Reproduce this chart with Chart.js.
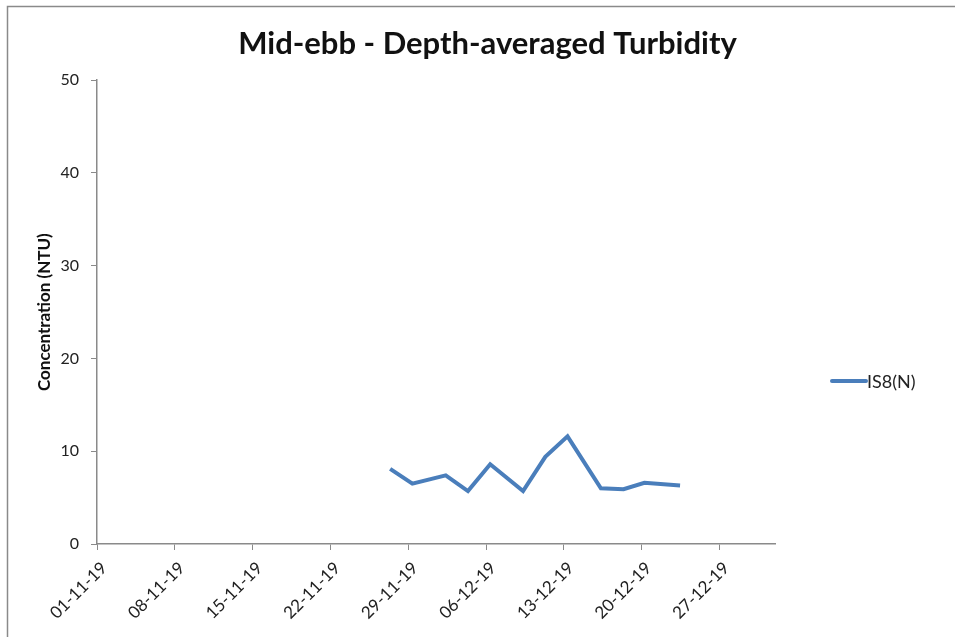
<!DOCTYPE html>
<html>
<head>
<meta charset="utf-8">
<script src="https://cdn.jsdelivr.net/npm/chart.js@4.4.1/dist/chart.umd.min.js"></script>
<style>
  html, body { margin: 0; padding: 0; background: #fff; }
  #wrap { width: 955px; height: 637px; position: relative; }
</style>
</head>
<body>
<div id="wrap"><canvas id="grafico"></canvas></div>
<script>
// dados (data e hora aproximada da medição)
const datas = ["2019-11-27T09:00", "2019-11-29T09:00", "2019-12-02T09:00", "2019-12-04T09:00",
  "2019-12-06T09:00", "2019-12-09T08:00", "2019-12-11T08:00", "2019-12-13T08:00",
  "2019-12-16T08:00", "2019-12-18T09:00", "2019-12-20T06:00", "2019-12-23T11:00"];
const valoresIS8 = [8.1, 6.5, 7.4, 5.7, 8.6, 5.7, 9.4, 11.6, 6.0, 5.9, 6.6, 6.3];
const nomeSerie = "IS8(N)";
const inicioEixo = "2019-11-01T00:00";
const diasEixo = 61;

const DIA = 86400000;
function diaDe(d) {
  return (Date.parse(d + ":00Z") - Date.parse(inicioEixo + ":00Z")) / DIA;
}
function formatarDia(n) {
  const dt = new Date(Date.parse(inicioEixo + ":00Z") + n * DIA);
  const dd = String(dt.getUTCDate()).padStart(2, "0");
  const mm = String(dt.getUTCMonth() + 1).padStart(2, "0");
  const yy = String(dt.getUTCFullYear()).slice(2);
  return dd + "-" + mm + "-" + yy;
}

const pontos = datas.map((d, i) => ({ x: diaDe(d), y: valoresIS8[i] }));
const corLinha = "#4a7ebb";
const fonte = "Lato, 'Open Sans', sans-serif";

const moldura = {
  id: "moldura",
  beforeDraw(chart) {
    const ctx = chart.ctx;
    ctx.save();
    ctx.strokeStyle = "#8a8a8a";
    ctx.lineWidth = 1.5;
    ctx.beginPath();
    ctx.moveTo(7.5, chart.height);
    ctx.lineTo(7.5, 6.5);
    ctx.lineTo(chart.width, 6.5);
    ctx.stroke();
    ctx.restore();
  }
};

const legendaDireita = {
  id: "legendaDireita",
  afterDraw(chart) {
    const ctx = chart.ctx;
    ctx.save();
    ctx.strokeStyle = corLinha;
    ctx.lineWidth = 4;
    ctx.lineCap = "round";
    ctx.beginPath();
    ctx.moveTo(832, 381);
    ctx.lineTo(866, 381);
    ctx.stroke();
    ctx.fillStyle = "#222";
    ctx.font = "18px " + fonte;
    ctx.textBaseline = "middle";
    ctx.fillText(nomeSerie, 867, 382);
    ctx.restore();
  }
};

Chart.defaults.font.family = fonte;
Chart.defaults.color = "#222";

const ctx = document.getElementById("grafico").getContext("2d");
new Chart(ctx, {
  type: "line",
  data: {
    datasets: [{
      label: nomeSerie,
      data: pontos,
      borderColor: corLinha,
      backgroundColor: corLinha,
      borderWidth: 4,
      pointRadius: 0,
      tension: 0,
      borderJoinStyle: "miter"
    }]
  },
  options: {
    responsive: true,
    maintainAspectRatio: false,
    animation: false,
    layout: { padding: { left: 20, right: 0, top: 0, bottom: 0 } },
    plugins: {
      legend: { display: false },
      tooltip: { enabled: false },
      title: {
        display: true,
        text: "Mid-ebb - Depth-averaged Turbidity",
        color: "#111",
        font: { size: 31, weight: "bold" },
        padding: { top: 25, bottom: 18 }
      }
    },
    scales: {
      x: {
        type: "linear",
        min: 0,
        max: diasEixo,
        afterFit: (scale) => { scale.height = 93; },
        afterBuildTicks: (scale) => {
          const t = [];
          for (let v = 0; v < diasEixo; v += 7) t.push({ value: v });
          scale.ticks = t;
        },
        ticks: {
          minRotation: 45,
          maxRotation: 45,
          font: { size: 17 },
          color: "#222",
          padding: 8,
          labelOffset: 7,
          callback: (v) => formatarDia(v)
        },
        grid: { drawOnChartArea: false, color: "#8a8a8a", tickLength: 6 },
        border: { color: "#8a8a8a", width: 1.5 }
      },
      y: {
        min: 0,
        max: 50,
        afterFit: (scale) => { scale.width = 77; },
        ticks: { stepSize: 10, font: { size: 16 }, color: "#222", padding: 12 },
        grid: { drawOnChartArea: false, color: "#8a8a8a", tickLength: 6 },
        border: { color: "#8a8a8a", width: 1.5 },
        title: {
          display: true,
          text: "Concentration (NTU)",
          font: { size: 17, weight: "bold" },
          color: "#111",
          padding: { top: 14, bottom: 0 }
        }
      },
      espacoLegenda: {
        type: "linear",
        position: "right",
        display: true,
        afterFit: (scale) => { scale.width = 180; },
        ticks: { display: false },
        grid: { display: false },
        border: { display: false }
      }
    }
  },
  plugins: [moldura, legendaDireita]
});
</script>
</body>
</html>
